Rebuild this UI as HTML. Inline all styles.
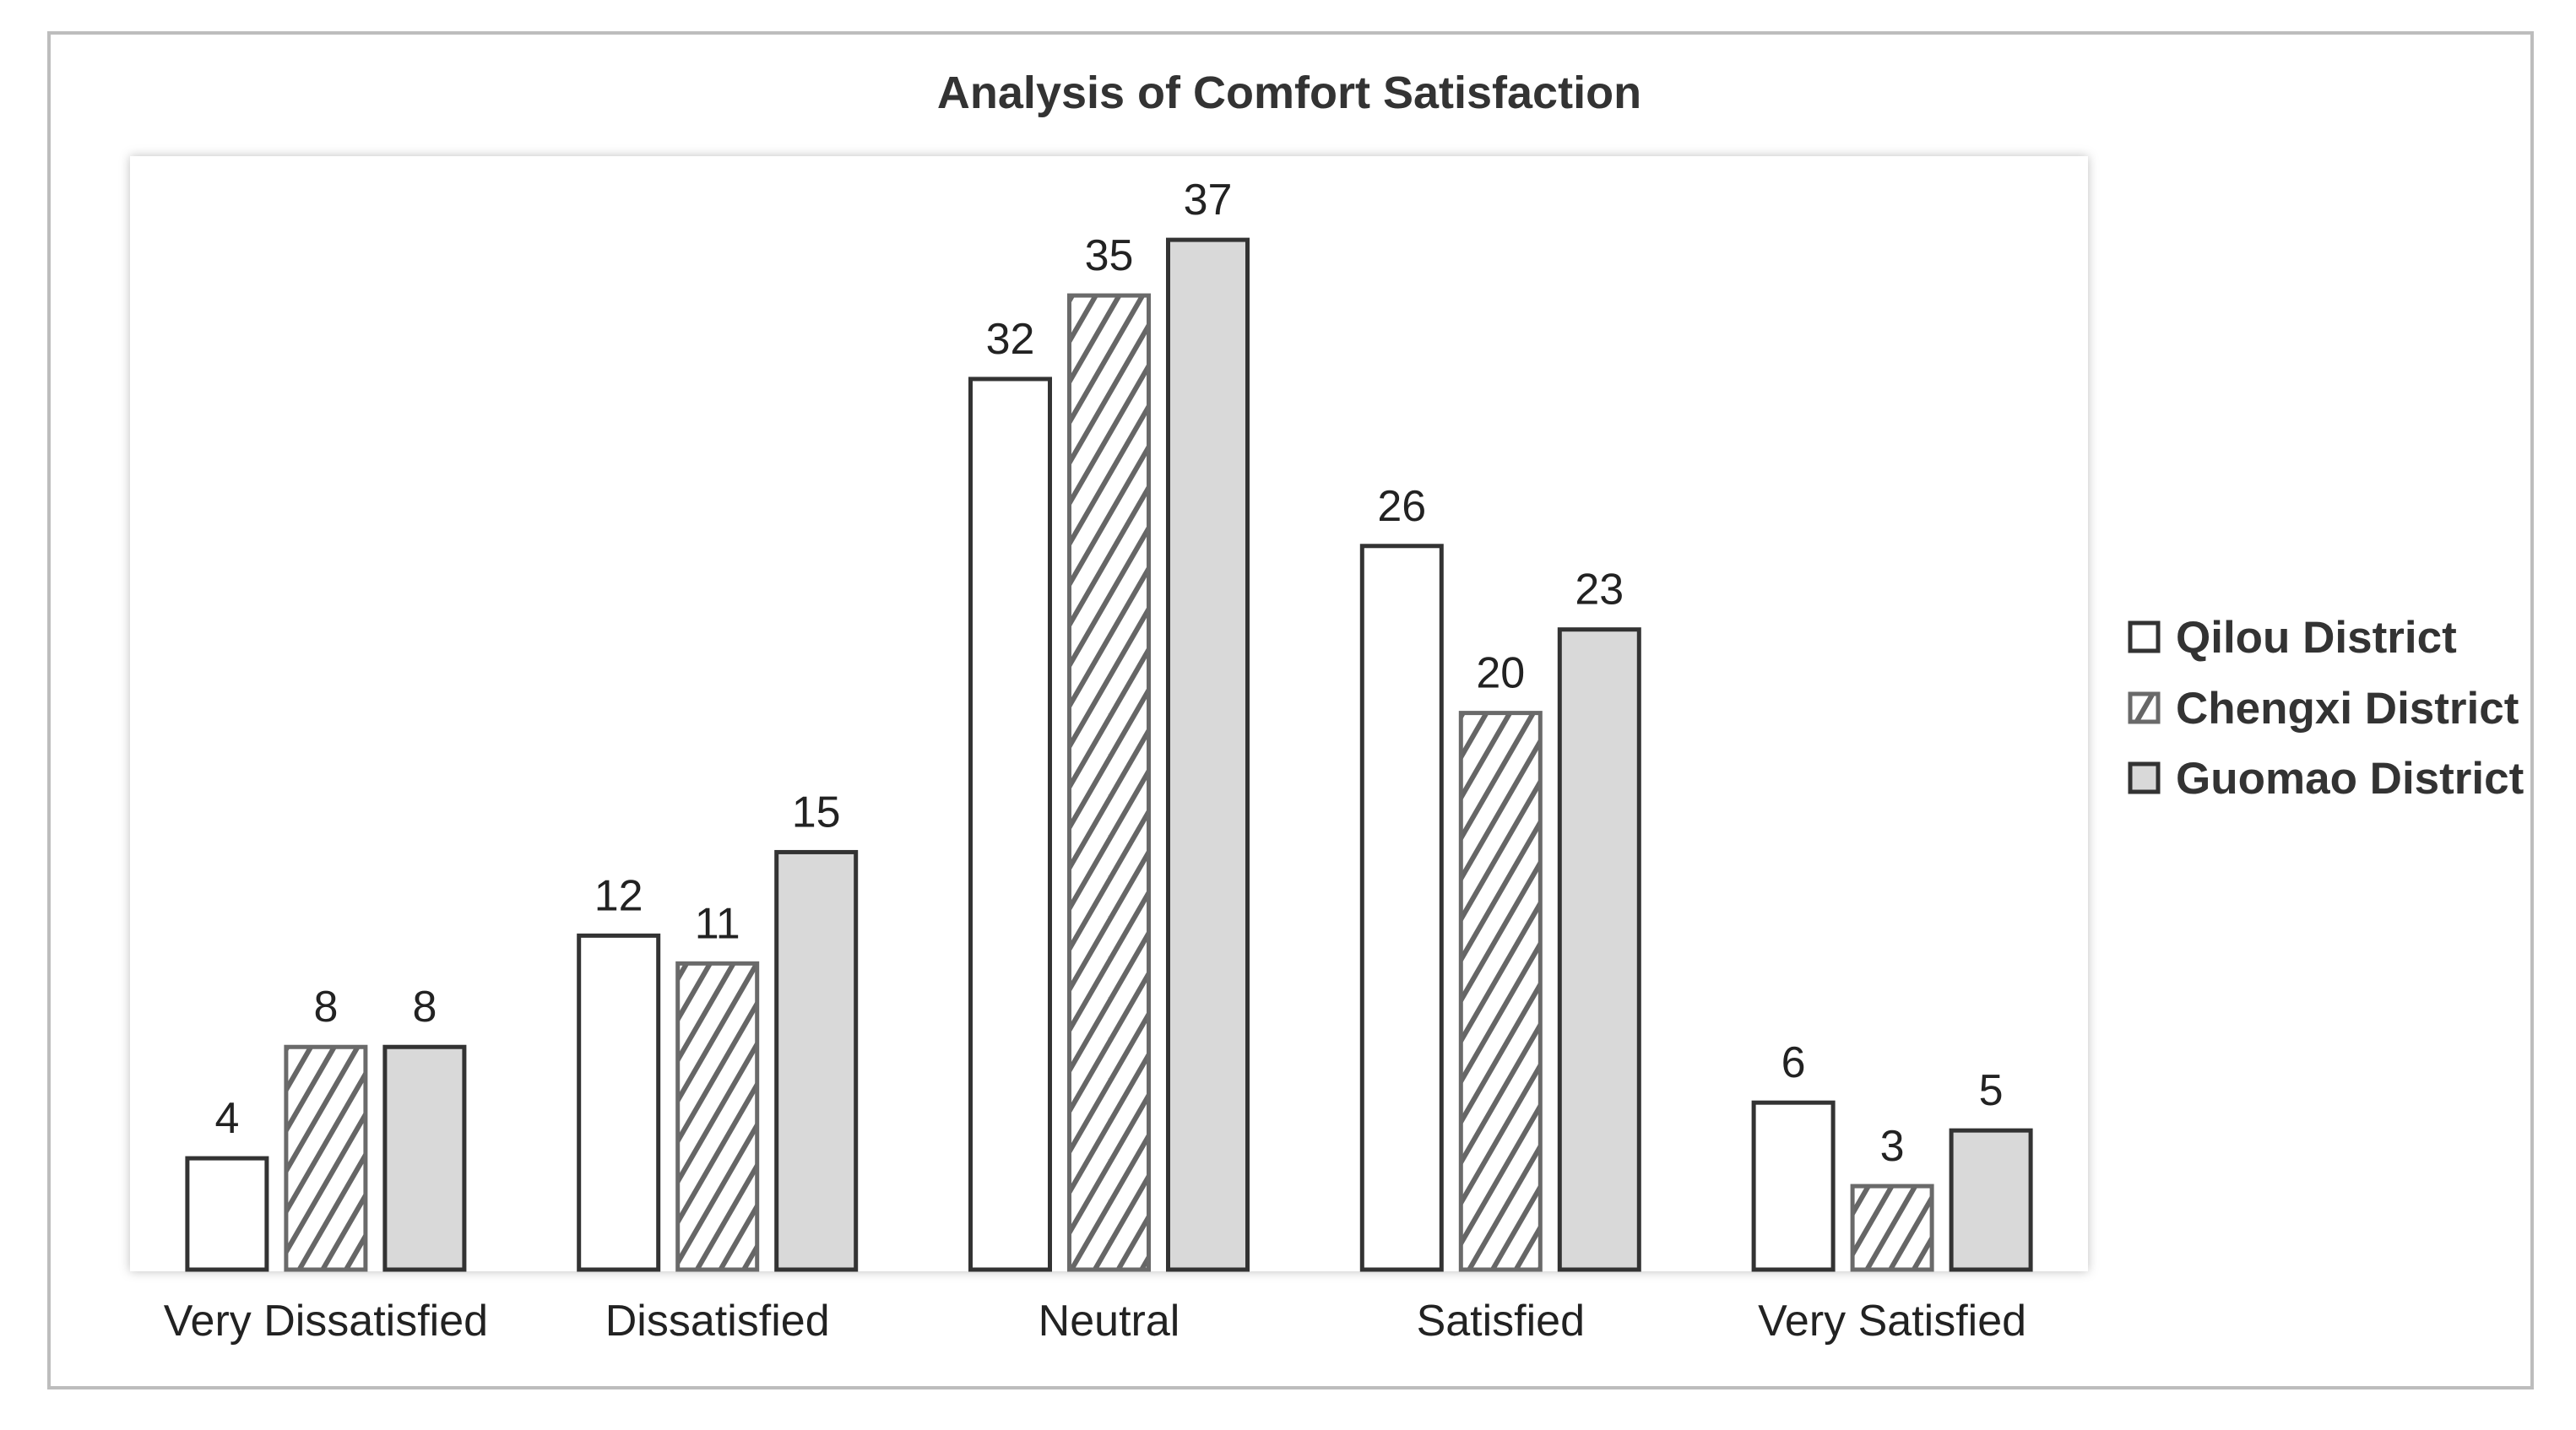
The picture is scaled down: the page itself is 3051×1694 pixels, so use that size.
<!DOCTYPE html>
<html><head><meta charset="utf-8"><style>
html,body{margin:0;padding:0;background:#fff;}
svg{display:block;font-family:"Liberation Sans",Arial,sans-serif;}
</style></head><body>
<svg id="chart" width="3051" height="1694" viewBox="0 0 3051 1694" xmlns="http://www.w3.org/2000/svg">
<defs>
<pattern id="hatch" patternUnits="userSpaceOnUse" width="24" height="24" patternTransform="rotate(30)">
<rect width="24" height="24" fill="#fff"/>
<rect x="0" y="0" width="6" height="24" fill="#666"/>
</pattern>
<filter id="shadow" x="-5%" y="-5%" width="110%" height="110%">
<feDropShadow dx="0" dy="0" stdDeviation="6" flood-color="#000" flood-opacity="0.25"/>
</filter>
</defs>
<rect x="58" y="39" width="2941" height="1605" fill="#fff" stroke="#bdbdbd" stroke-width="4"/>
<text x="1527" y="128" text-anchor="middle" font-size="54" font-weight="bold" fill="#333">Analysis of Comfort Satisfaction</text>
<rect x="154" y="185" width="2319" height="1321" fill="#fff" filter="url(#shadow)"/>
<g id="bars"></g>
<g id="legend"></g>
</svg>
<script>
const categories = ["Very Dissatisfied","Dissatisfied","Neutral","Satisfied","Very Satisfied"];
const seriesNames = ["Qilou District","Chengxi District","Guomao District"];
const qilou = [4,12,32,26,6];
const chengxi = [8,11,35,20,3];
const guomao = [8,15,37,23,5];
const seriesValues = [qilou, chengxi, guomao];

const NS = "http://www.w3.org/2000/svg";
const plotL = 154, plotR = 2473, baseY = 1504, pxPerUnit = 32.97;
const catW = (plotR - plotL) / categories.length;
const barW = 94, step = 117;
const fills = ["#ffffff","url(#hatch)","#d9d9d9"];
const strokes = ["#333","#6a6a6a","#333"];
function yScale(v){ return baseY - v * pxPerUnit; }
function xCenter(i){ return plotL + catW * (i + 0.5); }
function mk(tag, attrs, parent){ const e = document.createElementNS(NS, tag); for (const k in attrs) e.setAttribute(k, attrs[k]); parent.appendChild(e); return e; }
const g = document.getElementById('bars');
categories.forEach((c, i) => {
  seriesValues.forEach((vals, s) => {
    const v = vals[i];
    const x = xCenter(i) + (s - 1) * step - barW / 2;
    const y = yScale(v);
    const r = mk('rect', {x: x, y: y, width: barW, height: baseY - y, fill: fills[s], stroke: strokes[s], 'stroke-width': 5}, g);
    
    
    const t = mk('text', {x: x + barW / 2, y: y - 30, 'text-anchor': 'middle', 'font-size': 52, fill: '#222'}, g);
    t.textContent = v;
    
    
  });
  const cl = mk('text', {x: xCenter(i), y: 1582, 'text-anchor': 'middle', 'font-size': 52, fill: '#222'}, g);
  cl.textContent = c;
  
  
});
const lg = document.getElementById('legend');
const legY = [755, 839, 922];
seriesNames.forEach((n, s) => {
  const r = mk('rect', {x: 2523, y: legY[s] - 17, width: 33, height: 33, fill: fills[s], stroke: strokes[s], 'stroke-width': 5}, lg);
  
  
  const t = mk('text', {x: 2577, y: legY[s] + 18, 'font-size': 53, 'font-weight': 'bold', fill: '#333'}, lg);
  t.textContent = n;
  
  
});
</script>
</body></html>
